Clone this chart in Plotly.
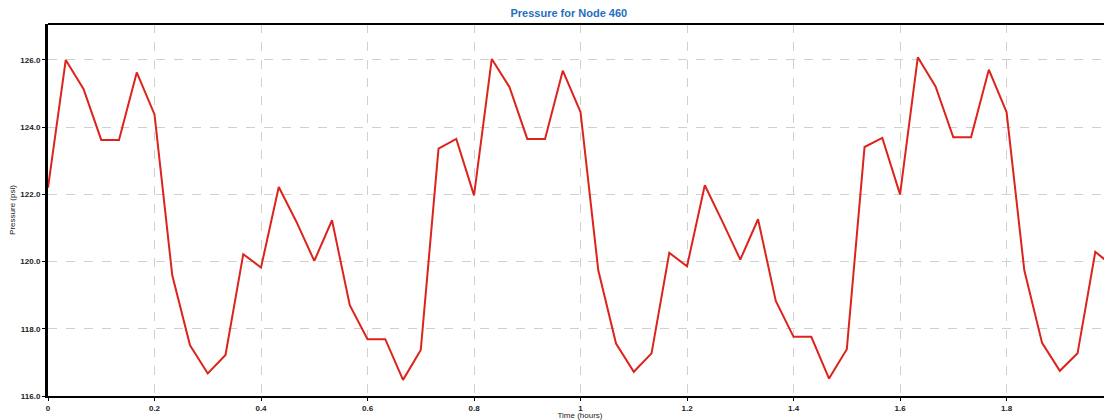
import plotly.graph_objects as go

# Time step: 2 minutes, 0 to 2 hours
time_minutes_step = 2
n_points = 61
time_hours = [i * time_minutes_step / 60 for i in range(n_points)]

pressure_psi = [
    122.2, 126.0, 125.14, 123.62, 123.62, 125.63, 124.38, 119.59, 117.51, 116.67,
    117.22, 120.22, 119.82, 122.22, 121.18, 120.02, 121.23, 118.70, 117.69, 117.69,
    116.48, 117.37, 123.36, 123.65, 121.97,
    126.03, 125.19, 123.65, 123.65, 125.68, 124.45, 119.74, 117.56, 116.72, 117.27,
    120.26, 119.86, 122.27, 121.18, 120.06, 121.26, 118.83, 117.76, 117.76, 116.52,
    117.39, 123.41, 123.68, 122.0,
    126.08, 125.21, 123.70, 123.70, 125.71, 124.45, 119.74, 117.58, 116.75, 117.27,
    120.29, 119.86,
]

y_ticks = [116, 118, 120, 122, 124, 126]
x_ticks = [0, 0.2, 0.4, 0.6, 0.8, 1, 1.2, 1.4, 1.6, 1.8]
x_tick_labels = ["0", "0.2", "0.4", "0.6", "0.8", "1", "1.2", "1.4", "1.6", "1.8"]

fig = go.Figure()
fig.add_trace(go.Scatter(
    x=time_hours, y=pressure_psi, mode="lines",
    line=dict(color="#dc231c", width=2),
    showlegend=False,
))

tick_font = dict(family="Liberation Sans, Arial", size=8, color="#222222", weight="bold")
axis_title_font = dict(family="Liberation Sans, Arial", size=8, color="#222222")

fig.update_layout(
    width=1104, height=412,
    margin=dict(l=40, r=0, t=16, b=24),
    paper_bgcolor="white", plot_bgcolor="white",
    title=dict(
        text="<b>Pressure for Node 460</b>",
        x=0.508, xanchor="center", y=0.998, yanchor="top",
        font=dict(family="Liberation Sans, Arial", size=11, color="#1f6fbf"),
    ),
    xaxis=dict(
        range=[0, 1.998],
        tickvals=x_ticks, ticktext=x_tick_labels,
        tickfont=tick_font,
        showgrid=True, gridcolor="#d0d0d0", griddash="dash", gridwidth=1,
        showline=True, linecolor="black", linewidth=2,
        ticks="outside", ticklen=3, tickcolor="black",
        zeroline=False,
        title=dict(text="Time (hours)", font=axis_title_font, standoff=2),
    ),
    yaxis=dict(
        range=[116, 127.07],
        tickvals=y_ticks, tickformat=".1f",
        tickfont=tick_font,
        showgrid=True, gridcolor="#d0d0d0", griddash="dash", gridwidth=1,
        showline=True, linecolor="black", linewidth=3,
        ticks="outside", ticklen=3, tickcolor="black",
        zeroline=False,
        title=dict(text="Pressure (psi)", font=axis_title_font, standoff=6),
    ),
    shapes=[dict(type="line", xref="paper", yref="paper", x0=0, x1=1, y0=1, y1=1,
                 line=dict(color="black", width=2))],
)

fig.write_html("out.html")
